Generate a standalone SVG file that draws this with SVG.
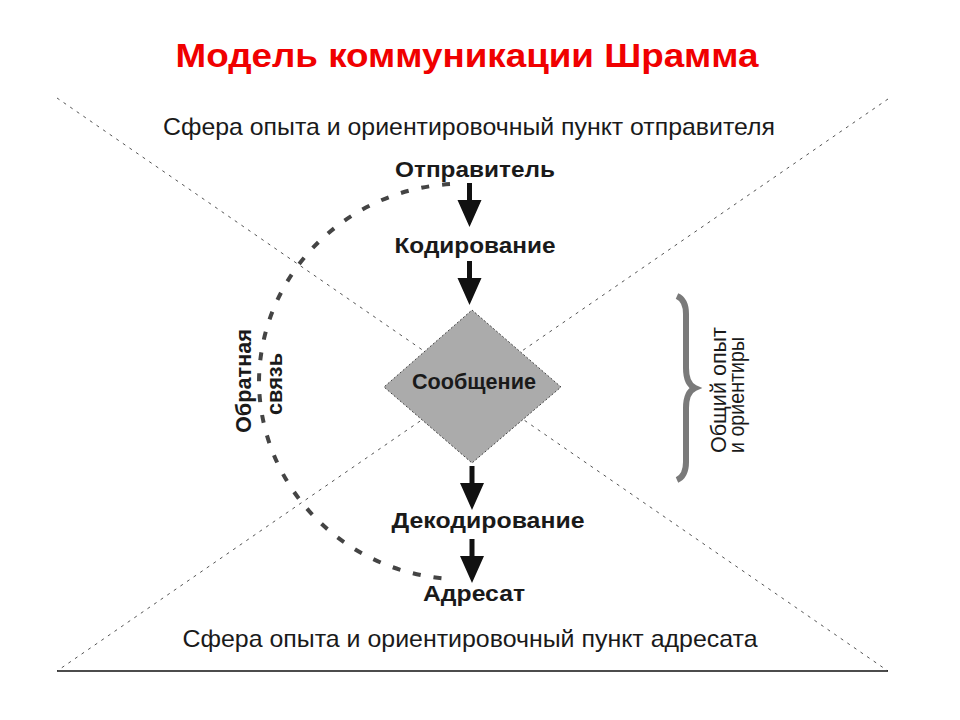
<svg xmlns="http://www.w3.org/2000/svg" width="960" height="720" viewBox="0 0 960 720">
<style>
.bold{font-family:"Liberation Sans",Arial,sans-serif;font-weight:bold;fill:#1a1a1a}
.reg{font-family:"Liberation Sans",Arial,sans-serif;fill:#1a1a1a}
.diag{stroke:#555;stroke-width:1;stroke-dasharray:3 5;fill:none}
</style>
<defs>
<path id="arrow" d="M-2.5,-44 H2.5 V-27 H12 L0,0 L-12,-27 H-2.5 Z" fill="#111"/>
</defs>
<rect width="960" height="720" fill="#fff"/>
<g id="title"><text x="467" y="67" class="bold" style="fill:#f00000" font-size="34" text-anchor="middle" textLength="583" lengthAdjust="spacingAndGlyphs">Модель коммуникации Шрамма</text></g>
<g id="frame">
<line class="diag" x1="57" y1="98" x2="888" y2="671"/>
<line class="diag" x1="888" y1="99" x2="57" y2="671"/>
<line x1="57" y1="671" x2="888" y2="671" stroke="#111" stroke-width="1.5"/>
</g>
<g id="sender-sphere"><text x="469" y="135" class="reg" font-size="24" text-anchor="middle" textLength="612" lengthAdjust="spacingAndGlyphs">Сфера опыта и ориентировочный пункт отправителя</text></g>
<g id="receiver-sphere"><text x="470" y="647" class="reg" font-size="24" text-anchor="middle" textLength="575" lengthAdjust="spacingAndGlyphs">Сфера опыта и ориентировочный пункт адресата</text></g>
<g id="connectors">
<path d="M450,184 A204,199 0 0 0 259,382 A204,199 0 0 0 450,579" fill="none" stroke="#444" stroke-width="4" stroke-dasharray="8 13"/>
<use href="#arrow" x="469.5" y="227"/>
<use href="#arrow" x="469.5" y="305"/>
<use href="#arrow" x="472" y="510"/>
<use href="#arrow" x="472" y="583"/>
</g>
<g id="sender"><text x="475" y="177" class="bold" font-size="22.5" text-anchor="middle" textLength="160" lengthAdjust="spacingAndGlyphs">Отправитель</text></g>
<g id="encoding"><text x="475" y="253" class="bold" font-size="22.5" text-anchor="middle" textLength="161" lengthAdjust="spacingAndGlyphs">Кодирование</text></g>
<g id="message">
<polygon points="472,310 561,387 472,463 384,387" fill="#ababab" stroke="#444" stroke-width="1" stroke-dasharray="2 2"/>
<text x="474" y="389" class="bold" font-size="21.5" text-anchor="middle" textLength="124" lengthAdjust="spacingAndGlyphs">Сообщение</text>
</g>
<g id="decoding"><text x="488" y="528" class="bold" font-size="22.5" text-anchor="middle" textLength="193" lengthAdjust="spacingAndGlyphs">Декодирование</text></g>
<g id="receiver"><text x="474" y="601" class="bold" font-size="22.5" text-anchor="middle" textLength="102" lengthAdjust="spacingAndGlyphs">Адресат</text></g>
<g id="feedback">
<text transform="translate(251,381) rotate(-90)" class="bold" font-size="22" text-anchor="middle" textLength="104" lengthAdjust="spacingAndGlyphs">Обратная</text>
<text transform="translate(282,384) rotate(-90)" class="bold" font-size="22" text-anchor="middle" textLength="62" lengthAdjust="spacingAndGlyphs">связь</text>
</g>
<g id="common">
<path d="M677,296 Q686,300 686,314 V368 Q686,384 695,388 Q686,392 686,408 V462 Q686,476 677,480" fill="none" stroke="#7a7a7a" stroke-width="6"/>
<text transform="translate(726,453) rotate(-90)" class="reg" font-size="22" textLength="126" lengthAdjust="spacingAndGlyphs">Общий опыт</text>
<text transform="translate(744,453) rotate(-90)" class="reg" font-size="22" textLength="116" lengthAdjust="spacingAndGlyphs">и ориентиры</text>
</g>
</svg>
